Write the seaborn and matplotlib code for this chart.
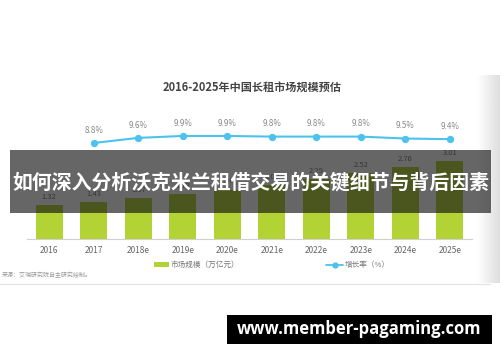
import numpy as np
import pandas as pd
import matplotlib
matplotlib.use("Agg")
import matplotlib.pyplot as plt
import seaborn as sns

# ---- data ----
years = ["2016", "2017", "2018e", "2019e", "2020e", "2021e", "2022e", "2023e", "2024e", "2025e"]
market_size = [1.32, 1.43, 1.57, 1.73, 1.90, 2.08, 2.29, 2.52, 2.76, 3.01]
growth_years = ["2017", "2018e", "2019e", "2020e", "2021e", "2022e", "2023e", "2024e", "2025e"]
growth_rate = [8.8, 9.6, 9.9, 9.9, 9.8, 9.8, 9.8, 9.5, 9.4]

title = "2016-2025年中国长租市场规模预估"
legend_bar = "市场规模（万亿元）"
legend_line = "增长率（%）"
source = "来源：艾瑞研究院自主研究绘制。"
banner = "如何深入分析沃克米兰租借交易的关键细节与背后因素"
site = "www.member-pagaming.com"

sns.set_style("white")
plt.rcParams["font.family"] = ["Noto Sans CJK SC", "DejaVu Sans"]

W, H = 500, 362
fig = plt.figure(figsize=(W / 100, H / 100), dpi=100)
fig.patch.set_facecolor("white")

def fx(px):
    return px / W

def fy(py):
    return 1 - py / H

GREEN = "#b3d234"
BLUE = "#4cc2ee"

# main axes: x from 27 to 472 px, y from 75 (top) to 239 (bottom)
ax_l, ax_r, ax_t, ax_b = 27, 472, 75, 239
ax = fig.add_axes([fx(ax_l), fy(ax_b), fx(ax_r - ax_l), (ax_b - ax_t) / H])
df = pd.DataFrame({"year": years, "size": market_size})
sns.barplot(data=df, x="year", y="size", color=GREEN, width=0.6, ax=ax,
            saturation=1, edgecolor="none")
ax.set_xlim(-0.5, 9.5)
ax.set_ylim(0, (ax_b - ax_t) / 26.0)
ax.set_xlabel("")
ax.set_ylabel("")
ax.set_yticks([])
for s in ["top", "left", "right"]:
    ax.spines[s].set_visible(False)
ax.spines["bottom"].set_color("#d0d0d0")
ax.spines["bottom"].set_linewidth(0.8)
ax.tick_params(axis="x", length=0, pad=5, labelsize=6, labelcolor="#666666")
ax.patch.set_alpha(0)
for i, v in enumerate(market_size):
    ax.annotate(f"{v:.2f}", (i, v), xytext=(0, 3), textcoords="offset points",
                ha="center", va="bottom", fontsize=5.5, color="#777777")

# growth line on twin axis
ax2 = ax.twinx()
gx = [years.index(y) for y in growth_years]
gdf = pd.DataFrame({"x": gx, "g": growth_rate})
sns.lineplot(data=gdf, x="x", y="g", ax=ax2, color=BLUE, linewidth=1.5,
             marker="o", markersize=4.5, markeredgecolor=BLUE)
px_per_pct = 6.4
ax2.set_ylim(8.8 - (ax_b - 143) / px_per_pct, 8.8 + (143 - ax_t) / px_per_pct)
ax2.set_xlim(-0.5, 9.5)
ax2.set_yticks([])
ax2.set_ylabel("")
ax2.set_xlabel("")
for s in ["top", "left", "right", "bottom"]:
    ax2.spines[s].set_visible(False)
for x, g in zip(gx, growth_rate):
    ax2.annotate(f"{g:.1f}%", (x, g), xytext=(0, 6), textcoords="offset points",
                 ha="center", va="bottom", fontsize=5.8, color="#888888")

# overlay in pixel coordinates
ov = fig.add_axes([0, 0, 1, 1], zorder=10)
ov.set_xlim(0, W)
ov.set_ylim(H, 0)
ov.axis("off")
ov.patch.set_alpha(0)

# right edge shadow
grad = np.linspace(1.0, 0.87, 50).reshape(1, -1)
ov.imshow(np.repeat(grad, 2, axis=0), cmap="gray", vmin=0, vmax=1,
          extent=[477, 500, 283, 75], aspect="auto", zorder=0)

ov.text(252, 87, title, ha="center", va="center", fontsize=8,
        fontweight="bold", color="#444444")

# legend
ov.add_patch(plt.Rectangle((154, 262), 15, 4.5, color=GREEN, lw=0))
ov.text(171, 264.5, legend_bar, ha="left", va="center", fontsize=5.5, color="#777777")
ov.plot([326, 343], [264.5, 264.5], color=BLUE, lw=1.3)
ov.plot([335], [264.5], marker="o", color=BLUE, markersize=3.5)
ov.text(345, 264.5, legend_line, ha="left", va="center", fontsize=5.5, color="#777777")

ov.text(2, 275, source, ha="left", va="center", fontsize=4.3, color="#999999")
ov.plot([0, 490], [283.5, 283.5], color="#e2e2e2", lw=0.8)

# banner
ov.add_patch(plt.Rectangle((10, 150), 481, 63, color="#141414", alpha=0.65, lw=0))
ov.text(250.5, 182, banner, ha="center", va="center", fontsize=14.3,
        fontweight="bold", color="white")

# site box
ov.add_patch(plt.Rectangle((227, 315), 265, 29, color="black", lw=0))
ov.text(359.5, 329.5, site, ha="center", va="center", fontsize=12,
        fontweight="bold", color="white", family=["Open Sans", "DejaVu Sans"])

fig.savefig("out.png", dpi=100, facecolor="white")
